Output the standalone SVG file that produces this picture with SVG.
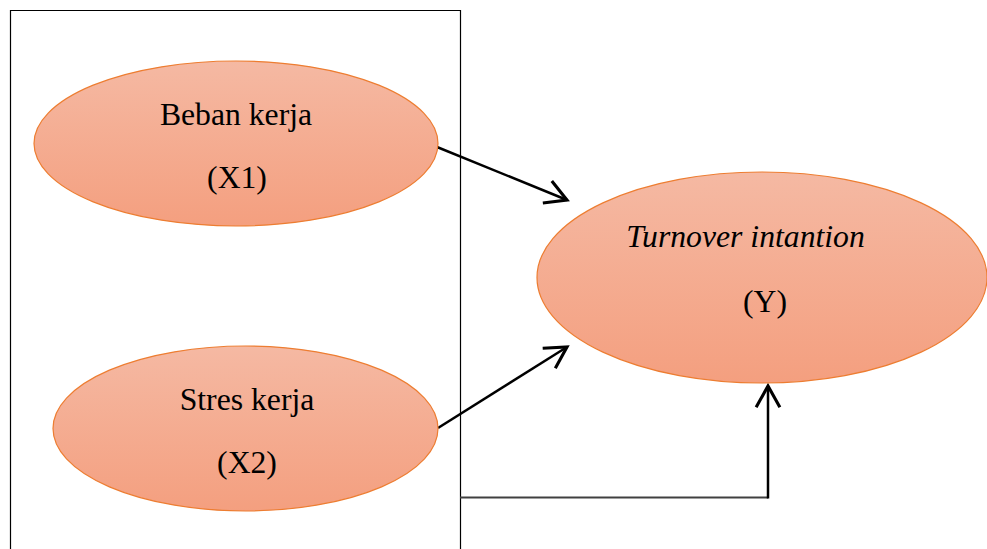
<svg xmlns="http://www.w3.org/2000/svg" width="987" height="549" viewBox="0 0 987 549">
<style>
.node{stroke:#ED7D31;stroke-width:1.2;fill:url(#g)}
.t{font-family:"Liberation Serif","Times New Roman",serif;font-size:31.7px;fill:#000;text-anchor:middle}
.i{font-style:italic}
.c{fill:none;stroke:#000;stroke-width:2.5}
</style>
<defs>
<linearGradient id="g" x1="0" y1="0" x2="0" y2="1">
<stop offset="0" stop-color="#F5B9A3"/>
<stop offset="1" stop-color="#F49F7F"/>
</linearGradient>
<marker id="a" markerUnits="userSpaceOnUse" markerWidth="30" markerHeight="30" viewBox="-20 -12 24 24" refX="0" refY="0" orient="auto" overflow="visible">
<path d="M-17,-9.5 L0,0 L-17,9.5" fill="none" stroke="#000" stroke-width="2.5"/>
</marker>
</defs>
<g id="frame">
<path d="M10.5,549 V10.5 H460.5 V549" fill="none" stroke="#000" stroke-width="1.2"/>
</g>
<g id="connectors">
<line class="c" x1="437" y1="147" x2="567" y2="200" marker-end="url(#a)"/>
<line class="c" x1="438" y1="428" x2="567" y2="347" marker-end="url(#a)"/>
<path d="M460,497.5 H768" fill="none" stroke="#404040" stroke-width="1.8"/>
<line class="c" x1="768" y1="498.5" x2="768" y2="386" marker-end="url(#a)"/>
</g>
<g id="x1">
<ellipse class="node" cx="236" cy="143.5" rx="202" ry="82.5"/>
<text class="t" x="236" y="125">Beban kerja</text>
<text class="t" x="237" y="188">(X1)</text>
</g>
<g id="x2">
<ellipse class="node" cx="245.5" cy="428.5" rx="192.5" ry="82.5"/>
<text class="t" x="247" y="410">Stres kerja</text>
<text class="t" x="247" y="473">(X2)</text>
</g>
<g id="y">
<ellipse class="node" cx="762" cy="277.5" rx="225" ry="105.5"/>
<text class="t i" x="745.5" y="247">Turnover intantion</text>
<text class="t" x="765" y="312">(Y)</text>
</g>
</svg>
